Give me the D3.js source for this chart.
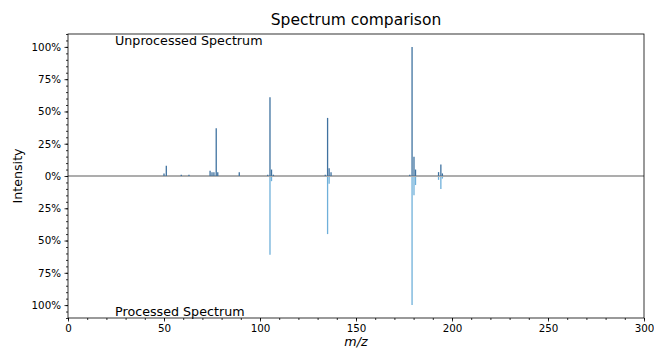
<!DOCTYPE html>
<html>
<head>
<meta charset="utf-8">
<script src="https://cdn.jsdelivr.net/npm/d3@7"></script>
<style>
  body { margin: 0; background: #fff; }
  text { font-family: "DejaVu Sans", sans-serif; fill: #000; }
</style>
</head>
<body>
<script>
// unprocessed spectrum peaks (m/z, relative intensity)
const topMz = [50, 51.2, 59, 63, 74, 75, 76, 77.2, 78, 89.2, 104, 105.2, 106, 107, 134, 135.2, 136, 137, 178, 179.2, 180.2, 181, 193, 194.2, 195];
const topInt = [0.02, 0.08, 0.01, 0.01, 0.04, 0.03, 0.03, 0.37, 0.03, 0.03, 0.01, 0.61, 0.05, 0.01, 0.01, 0.45, 0.06, 0.03, 0.01, 1.0, 0.15, 0.05, 0.03, 0.09, 0.02];
// processed spectrum peaks (drawn downward)
const botMz = [105.2, 106, 135.2, 136, 179.2, 180.2, 181, 193, 194.2, 195];
const botInt = [0.61, 0.04, 0.45, 0.06, 1.0, 0.15, 0.07, 0.03, 0.10, 0.02];
// low-level noise hugging the baseline
const noiseMz = [55, 58, 62, 66, 69, 71, 81, 84, 86, 92, 95, 98, 101, 110, 114, 118, 121, 125, 128, 131, 140, 144, 147, 151, 154, 158, 162, 166, 170, 174, 186, 189, 199, 203, 207, 211, 216, 220, 224, 229, 233, 238, 242, 247, 251, 256, 260, 265, 269, 274, 278, 283, 287, 292, 296];
const noiseInt = [0.006, -0.005, 0.007, -0.004, 0.006, 0.005, -0.006, 0.005, -0.004, 0.006, -0.005, 0.004, 0.005, -0.006, 0.005, -0.004, 0.006, 0.004, -0.005, 0.005, -0.006, 0.005, 0.004, -0.005, 0.006, -0.004, 0.005, 0.006, -0.005, 0.004, 0.006, -0.005, 0.005, -0.006, 0.004, 0.005, -0.004, 0.006, 0.005, -0.005, 0.004, 0.006, -0.005, 0.004, 0.005, -0.006, 0.005, 0.004, -0.005, 0.006, -0.004, 0.005, 0.004, -0.005, 0.006];
const yTicks = [-1, -0.75, -0.5, -0.25, 0, 0.25, 0.5, 0.75, 1];
const xTicks = [0, 50, 100, 150, 200, 250, 300];

const width = 654, height = 354;
const margin = {left: 68, right: 10, top: 34, bottom: 36};

const svg = d3.select("body").append("svg")
    .attr("width", width)
    .attr("height", height);

const x = d3.scaleLinear().domain([0, 300]).range([margin.left, width - margin.right]);
const y = d3.scaleLinear().domain([-1.1, 1.1]).range([height - margin.bottom, margin.top]);

// noise stems
svg.append("g").selectAll("line")
    .data(noiseMz.map((m, i) => ({m: m, v: noiseInt[i]})))
    .join("line")
    .attr("x1", d => x(d.m)).attr("x2", d => x(d.m))
    .attr("y1", y(0)).attr("y2", d => y(d.v))
    .attr("stroke", "#a8a8a8").attr("stroke-width", 1);

// processed (bottom)
svg.append("g").selectAll("line")
    .data(botMz.map((m, i) => ({m: m, v: botInt[i]})))
    .join("line")
    .attr("x1", d => x(d.m)).attr("x2", d => x(d.m))
    .attr("y1", y(0)).attr("y2", d => y(-d.v))
    .attr("stroke", "#6fb0da").attr("stroke-width", 1.3);

// baseline
svg.append("line")
    .attr("x1", x(0)).attr("x2", x(300))
    .attr("y1", y(0)).attr("y2", y(0))
    .attr("stroke", "#adadad").attr("stroke-width", 2);

// unprocessed (top)
svg.append("g").selectAll("line")
    .data(topMz.map((m, i) => ({m: m, v: topInt[i]})))
    .join("line")
    .attr("x1", d => x(d.m)).attr("x2", d => x(d.m))
    .attr("y1", y(0)).attr("y2", d => y(d.v))
    .attr("stroke", "#3f72a0").attr("stroke-width", 1.3);

// frame
svg.append("rect")
    .attr("x", margin.left).attr("y", margin.top)
    .attr("width", width - margin.left - margin.right)
    .attr("height", height - margin.top - margin.bottom)
    .attr("fill", "none").attr("stroke", "#000").attr("stroke-width", 0.8);

// axes
svg.append("g")
    .attr("transform", `translate(0,${height - margin.bottom})`)
    .call(d3.axisBottom(x).tickValues(xTicks).tickFormat(d3.format("d")).tickSize(3.5).tickPadding(3.5));
svg.append("g")
    .attr("transform", `translate(0,${height - margin.bottom})`)
    .call(d3.axisBottom(x).tickValues(d3.range(0, 301, 10)).tickFormat("").tickSize(2));

svg.append("g")
    .attr("transform", `translate(${margin.left},0)`)
    .call(d3.axisLeft(y).tickValues(yTicks).tickFormat(d => Math.round(Math.abs(d) * 100) + "%").tickSize(3.5).tickPadding(3.5));
svg.append("g")
    .attr("transform", `translate(${margin.left},0)`)
    .call(d3.axisLeft(y).tickValues(d3.range(-1.1, 1.1001, 0.05)).tickFormat("").tickSize(2));

svg.selectAll(".domain").remove();
svg.selectAll(".tick line").attr("stroke", "#000").attr("stroke-width", 0.8);
svg.selectAll(".tick text").style("font-size", "10.3px").style("font-family", "DejaVu Sans, sans-serif");

// labels
svg.append("text")
    .attr("x", (margin.left + width - margin.right) / 2).attr("y", 25)
    .attr("text-anchor", "middle").style("font-size", "15.5px")
    .text("Spectrum comparison");
svg.append("text")
    .attr("x", (margin.left + width - margin.right) / 2).attr("y", 346)
    .attr("text-anchor", "middle").style("font-size", "12.7px").style("font-style", "italic")
    .text("m/z");
svg.append("text")
    .attr("transform", `translate(22,${y(0)}) rotate(-90)`)
    .attr("text-anchor", "middle").style("font-size", "12.7px")
    .text("Intensity");
svg.append("text")
    .attr("x", x(24.5)).attr("y", 45)
    .style("font-size", "12.7px")
    .text("Unprocessed Spectrum");
svg.append("text")
    .attr("x", x(24.5)).attr("y", 316)
    .style("font-size", "12.7px")
    .text("Processed Spectrum");
</script>
</body>
</html>
